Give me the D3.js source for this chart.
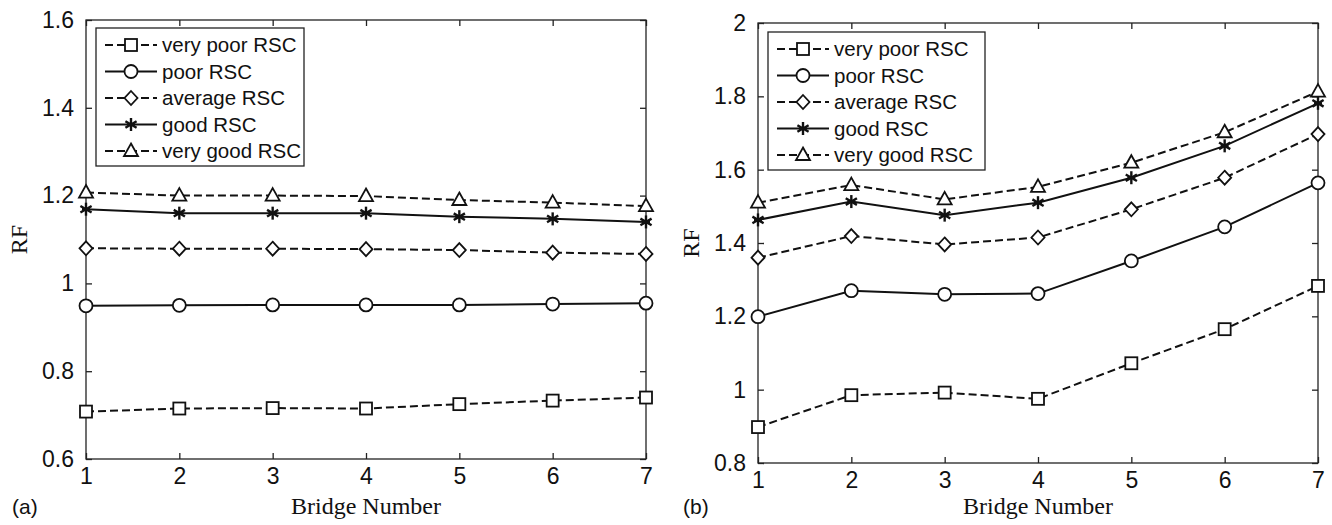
<!doctype html>
<html lang="en">
<head>
  <meta charset="utf-8">
  <title>RF vs Bridge Number</title>
  <script type="text/javascript" src="https://cdnjs.cloudflare.com/ajax/libs/d3/7.8.5/d3.min.js"></script>
  <style>
    body { margin: 0; background: #fff; }
    text { fill: #111; }
  </style>
</head>
<body>
  <svg width="1332" height="525" id="svg"></svg>
<script type="text/javascript">

  var bridges = [1, 2, 3, 4, 5, 6, 7];
  var seriesNames = ['very poor RSC', 'poor RSC', 'average RSC', 'good RSC', 'very good RSC'];

  // panel (a)
  var aVeryPoor = [0.708, 0.715, 0.716, 0.715, 0.725, 0.733, 0.740];
  var aPoor     = [0.949, 0.950, 0.951, 0.951, 0.951, 0.953, 0.955];
  var aAverage  = [1.080, 1.079, 1.079, 1.078, 1.076, 1.070, 1.067];
  var aGood     = [1.169, 1.160, 1.160, 1.160, 1.152, 1.147, 1.140];
  var aVeryGood = [1.207, 1.200, 1.200, 1.199, 1.190, 1.184, 1.176];
  var aTicks = [0.6, 0.8, 1, 1.2, 1.4, 1.6];

  // panel (b)
  var bVeryPoor = [0.898, 0.985, 0.992, 0.975, 1.072, 1.165, 1.283];
  var bPoor     = [1.199, 1.270, 1.260, 1.262, 1.351, 1.444, 1.564];
  var bAverage  = [1.360, 1.419, 1.396, 1.415, 1.492, 1.578, 1.697];
  var bGood     = [1.463, 1.513, 1.476, 1.510, 1.578, 1.665, 1.781];
  var bVeryGood = [1.510, 1.558, 1.519, 1.553, 1.619, 1.702, 1.813];
  var bTicks = [0.8, 1, 1.2, 1.4, 1.6, 1.8, 2];

  var markers = ['square', 'circle', 'diamond', 'star', 'triangle'];
  var dashed = [true, false, true, false, true];

  var panels = [
    { tag: '(a)', series: [aVeryPoor, aPoor, aAverage, aGood, aVeryGood], ticks: aTicks,
      left: 86, right: 646, top: 20, bottom: 459, legend: { x: 96, y: 28, w: 208, h: 138 }, tagX: 12, rfX: 19 },
    { tag: '(b)', series: [bVeryPoor, bPoor, bAverage, bGood, bVeryGood], ticks: bTicks,
      left: 758, right: 1318, top: 23, bottom: 463, legend: { x: 768, y: 32, w: 217, h: 138 }, tagX: 683, rfX: 691 }
  ];

  var svg = d3.select('#svg');
  var sans = 'Liberation Sans, Arial, sans-serif';
  var serif = 'Liberation Serif, Times New Roman, serif';

  /* draws one marker centred on 0,0 */
  function drawMarker(g, type) {
    var s = 6;
    if (type === 'square') {
      g.append('rect').attr('x', -s).attr('y', -s).attr('width', 2 * s).attr('height', 2 * s);
    } else if (type === 'circle') {
      g.append('circle').attr('r', 6.5);
    } else if (type === 'diamond') {
      g.append('path').attr('d', 'M0,-7L6.5,0L0,7L-6.5,0Z');
    } else if (type === 'triangle') {
      g.append('path').attr('d', 'M0,-7.5L7,5L-7,5Z');
    } else {
      [[0, -6.5, 0, 6.5], [-5.6, -3.3, 5.6, 3.3], [-5.6, 3.3, 5.6, -3.3], [-4, 0, 4, 0]].forEach(function(l) {
        g.append('line').attr('x1', l[0]).attr('y1', l[1]).attr('x2', l[2]).attr('y2', l[3]).attr('stroke-width', 2.4);
      });
    }
    g.attr('fill', 'white').attr('stroke', '#111').attr('stroke-width', 1.8);
  }

  panels.forEach(function(p) {
    var x = d3.scaleLinear().domain([1, 7]).range([p.left, p.right]);
    var y = d3.scaleLinear().domain(d3.extent(p.ticks)).range([p.bottom, p.top]);
    var fmt = d3.format('~g');

    var g = svg.append('g');

    // box with inward ticks on all four sides
    g.append('rect')
      .attr('x', p.left).attr('y', p.top)
      .attr('width', p.right - p.left).attr('height', p.bottom - p.top)
      .attr('fill', 'none').attr('stroke', '#222').attr('stroke-width', 1.3);

    g.append('g').attr('transform', 'translate(0,' + p.bottom + ')')
      .call(d3.axisBottom(x).tickValues(bridges).tickSizeInner(-6).tickSizeOuter(0).tickPadding(9).tickFormat(d3.format('d')))
      .call(function(a) { a.select('.domain').remove(); });
    g.append('g').attr('transform', 'translate(0,' + p.top + ')')
      .call(d3.axisTop(x).tickValues(bridges).tickSizeInner(-6).tickSizeOuter(0).tickFormat(''))
      .call(function(a) { a.select('.domain').remove(); });
    g.append('g').attr('transform', 'translate(' + p.left + ',0)')
      .call(d3.axisLeft(y).tickValues(p.ticks).tickSizeInner(-6).tickSizeOuter(0).tickPadding(12).tickFormat(fmt))
      .call(function(a) { a.select('.domain').remove(); });
    g.append('g').attr('transform', 'translate(' + p.right + ',0)')
      .call(d3.axisRight(y).tickValues(p.ticks).tickSizeInner(-6).tickSizeOuter(0).tickFormat(''))
      .call(function(a) { a.select('.domain').remove(); });

    g.selectAll('.tick line').attr('stroke', '#222').attr('stroke-width', 1.3);
    g.selectAll('.tick text').attr('font-family', sans).attr('font-size', 23).attr('fill', '#111');

    // lines and markers
    var line = d3.line().x(function(d, i) { return x(bridges[i]); }).y(function(d) { return y(d); });

    p.series.forEach(function(vals, k) {
      g.append('path').datum(vals)
        .attr('d', line)
        .attr('fill', 'none').attr('stroke', '#111').attr('stroke-width', 2)
        .attr('stroke-dasharray', dashed[k] ? '8,4' : null);
      vals.forEach(function(v, i) {
        var m = g.append('g').attr('transform', 'translate(' + x(bridges[i]) + ',' + y(v) + ')');
        drawMarker(m, markers[k]);
      });
    });

    // legend
    var L = p.legend;
    var lg = g.append('g');
    lg.append('rect').attr('x', L.x).attr('y', L.y).attr('width', L.w).attr('height', L.h)
      .attr('fill', 'white').attr('stroke', '#222').attr('stroke-width', 1.3);
    seriesNames.forEach(function(name, k) {
      var ry = L.y + 17 + k * 26.5;
      lg.append('line').attr('x1', L.x + 9).attr('x2', L.x + 61).attr('y1', ry).attr('y2', ry)
        .attr('stroke', '#111').attr('stroke-width', 2)
        .attr('stroke-dasharray', dashed[k] ? '8,4' : null);
      var m = lg.append('g').attr('transform', 'translate(' + (L.x + 35) + ',' + ry + ')');
      drawMarker(m, markers[k]);
      lg.append('text').attr('x', L.x + 66).attr('y', ry).attr('dy', '0.35em')
        .attr('font-family', sans).attr('font-size', 20.5).text(name);
    });

    // axis titles
    g.append('text')
      .attr('x', (p.left + p.right) / 2).attr('y', 514)
      .attr('text-anchor', 'middle').attr('font-family', serif).attr('font-size', 24)
      .text('Bridge Number');
    g.append('text')
      .attr('transform', 'translate(' + p.rfX + ',' + ((p.top + p.bottom) / 2) + ') rotate(-90)')
      .attr('text-anchor', 'middle').attr('dy', '0.35em').attr('font-family', serif).attr('font-size', 24)
      .text('RF');
    g.append('text')
      .attr('x', p.tagX).attr('y', 514)
      .attr('font-family', sans).attr('font-size', 21)
      .text(p.tag);
  });

</script>
</body>
</html>
